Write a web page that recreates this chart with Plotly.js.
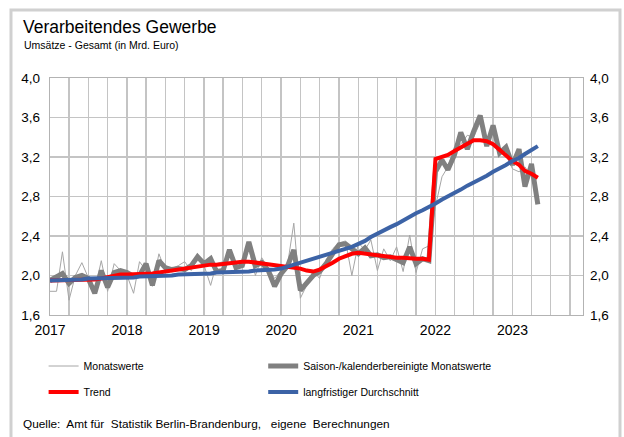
<!DOCTYPE html>
<html>
<head>
<meta charset="utf-8">
<script src="https://cdn.plot.ly/plotly-3.0.1.min.js"></script>
<style>html,body{margin:0;padding:0;background:#fff;}#chart{width:624px;height:437px;}</style>
</head>
<body>
<div id="chart"></div>
<script>
// ---- data (Mrd. Euro), monthly from 2017-01 to 2023-05 ----
const startYear = 2017;
const monatswerte = [
  1.84,1.84,2.24,1.75,2.00,2.13,1.98,1.85,2.15,1.84,2.12,2.05,
  2.00,1.82,2.14,2.05,1.89,2.22,2.05,2.07,2.10,2.14,2.05,2.18,
  2.10,1.90,2.12,2.14,2.22,2.06,2.15,2.27,2.00,2.18,2.08,1.97,
  2.05,2.12,2.53,1.77,1.90,2.05,1.97,2.16,2.27,2.33,2.35,2.00,
  2.33,2.26,2.36,2.05,2.27,2.15,2.29,2.04,2.41,2.03,2.27,2.30,
  2.70,3.00,3.10,3.30,3.33,3.42,3.40,3.55,3.38,3.46,3.30,3.22,
  3.08,3.05,3.10,3.00,2.78
];
const saisonbereinigt = [
  1.95,1.98,2.02,1.92,1.98,2.00,1.97,1.82,2.05,1.88,2.03,2.05,
  2.03,1.99,2.00,2.12,1.90,2.15,2.08,2.06,2.07,2.06,2.10,2.19,
  2.12,2.17,2.04,2.05,2.26,2.08,2.10,2.34,2.10,2.13,2.05,1.89,
  2.02,2.10,2.26,1.85,1.92,2.00,2.04,2.12,2.22,2.31,2.32,2.27,
  2.22,2.28,2.20,2.21,2.18,2.19,2.16,2.13,2.29,2.12,2.17,2.15,
  3.05,3.17,3.07,3.22,3.45,3.28,3.46,3.62,3.31,3.52,3.24,3.30,
  3.12,3.28,2.90,3.13,2.72
];
const trend = [
  1.95,1.95,1.95,1.95,1.95,1.96,1.96,1.96,1.97,1.98,2.00,2.01,
  2.01,2.01,2.02,2.02,2.02,2.03,2.04,2.05,2.06,2.07,2.08,2.09,
  2.10,2.11,2.11,2.12,2.13,2.13,2.14,2.14,2.13,2.12,2.11,2.10,
  2.09,2.08,2.08,2.07,2.05,2.04,2.06,2.09,2.13,2.17,2.20,2.22,
  2.23,2.22,2.21,2.20,2.20,2.19,2.18,2.18,2.17,2.17,2.17,2.16,
  3.18,3.20,3.22,3.26,3.30,3.34,3.37,3.37,3.36,3.33,3.27,3.22,
  3.16,3.12,3.06,3.03,2.99
];
const durchschnitt = [
  1.95,1.95,1.96,1.96,1.96,1.96,1.97,1.97,1.97,1.97,1.98,1.98,
  1.98,1.98,1.99,1.99,1.99,2.00,2.00,2.00,2.01,2.01,2.01,2.02,
  2.02,2.02,2.03,2.03,2.03,2.04,2.04,2.04,2.05,2.05,2.06,2.06,
  2.07,2.09,2.11,2.13,2.15,2.17,2.19,2.21,2.23,2.25,2.27,2.29,
  2.32,2.35,2.39,2.42,2.45,2.49,2.52,2.56,2.59,2.63,2.66,2.70,
  2.73,2.77,2.80,2.84,2.87,2.91,2.94,2.98,3.01,3.05,3.08,3.12,
  3.16,3.19,3.23,3.27,3.31
];
const seriesNames = ["Monatswerte", "Saison-/kalenderbereinigte Monatswerte", "Trend", "langfristiger Durchschnitt"];

// month dates (x categories)
const months = monatswerte.map((_, i) => {
  const y = startYear + Math.floor(i / 12);
  const m = (i % 12) + 1;
  return y + "-" + (m < 10 ? "0" + m : m) + "-01";
});

const FONT = "Liberation Sans, Arial, sans-serif";

const traces = [
  {x: months, y: monatswerte, name: seriesNames[0], mode: "lines", legend: "legend",
   line: {color: "#a6a6a6", width: 1}},
  {x: months, y: saisonbereinigt, name: seriesNames[1], mode: "lines", legend: "legend2",
   line: {color: "#808080", width: 5}},
  {x: months, y: trend, name: seriesNames[2], mode: "lines", legend: "legend3",
   line: {color: "#ff0000", width: 4}},
  {x: months, y: durchschnitt, name: seriesNames[3], mode: "lines", legend: "legend4",
   line: {color: "#3c63a6", width: 4}}
];

const gridC = "#c4c4c4";
const legBase = {orientation: "h", xanchor: "left", yanchor: "middle", bgcolor: "rgba(0,0,0,0)",
  font: {family: FONT, size: 10.5, color: "#000"}, itemwidth: 30};

const layout = {
  width: 624, height: 437,
  margin: {l: 50, r: 41, t: 78, b: 122},
  paper_bgcolor: "#fff", plot_bgcolor: "#fff",
  separators: ",.",
  font: {family: FONT, color: "#000"},
  title: {text: "Verarbeitendes Gewerbe", xref: "container", yref: "container",
          x: 23/624, y: 1 - 27/437, xanchor: "left", yanchor: "middle",
          font: {family: FONT, size: 17.5, color: "#000"}},
  xaxis: {type: "date", range: ["2017-01-01", "2023-12-01"], tick0: "2017-01-01", dtick: "M12",
          tickformat: "%Y", showgrid: true, gridcolor: gridC, gridwidth: 1.3,
          minor: {dtick: "M3", showgrid: true, gridcolor: gridC, gridwidth: 1.3},
          showline: true, linecolor: "#b3b3b3", linewidth: 1.3, mirror: true,
          ticks: "", ticklabelstandoff: 2, zeroline: false, tickfont: {family: FONT, size: 14, color: "#000"}},
  yaxis: {range: [1.6, 4.0], dtick: 0.4, tick0: 1.6, tickformat: ".1f",
          showgrid: true, gridcolor: gridC, gridwidth: 1.3, zeroline: false,
          showline: true, linecolor: "#b3b3b3", linewidth: 1.3, mirror: true,
          ticks: "", ticklabelstandoff: 6, tickfont: {family: FONT, size: 13.5, color: "#000"}},
  yaxis2: {range: [1.6, 4.0], dtick: 0.4, tick0: 1.6, tickformat: ".1f", overlaying: "y", side: "right",
          showgrid: false, zeroline: false, ticks: "", ticklabelstandoff: 6,
          tickfont: {family: FONT, size: 13.5, color: "#000"}},
  showlegend: true,
  legend:  Object.assign({}, legBase, {x: -0.012, y: -0.2152}),
  legend2: Object.assign({}, legBase, {x: 0.4, y: -0.2152}),
  legend3: Object.assign({}, legBase, {x: -0.012, y: -0.3249}),
  legend4: Object.assign({}, legBase, {x: 0.4, y: -0.3249}),
  annotations: [
    {text: "Umsätze - Gesamt (in Mrd. Euro)", xref: "paper", yref: "paper", x: -0.052, y: 1.139,
     xanchor: "left", yanchor: "middle", showarrow: false, font: {family: FONT, size: 10.5, color: "#000"}},
    {text: "Quelle:  Amt für  Statistik Berlin-Brandenburg,   eigene  Berechnungen", xref: "paper", yref: "paper",
     x: -0.054, y: -0.46, xanchor: "left", yanchor: "middle", showarrow: false,
     font: {family: FONT, size: 11.8, color: "#000"}}
  ],
  shapes: [
    {type: "rect", xref: "paper", yref: "paper", x0: -0.0732, x1: 1.0694, y0: -0.56, y1: 1.2869,
     line: {color: "#d0d0d0", width: 3}, layer: "below"}
  ]
};

// binding for right axis labels
traces.push({x: [months[0]], y: [null], yaxis: "y2", showlegend: false, hoverinfo: "skip", mode: "lines"});

Plotly.newPlot("chart", traces, layout, {displayModeBar: false, staticPlot: true});
</script>
</body>
</html>
